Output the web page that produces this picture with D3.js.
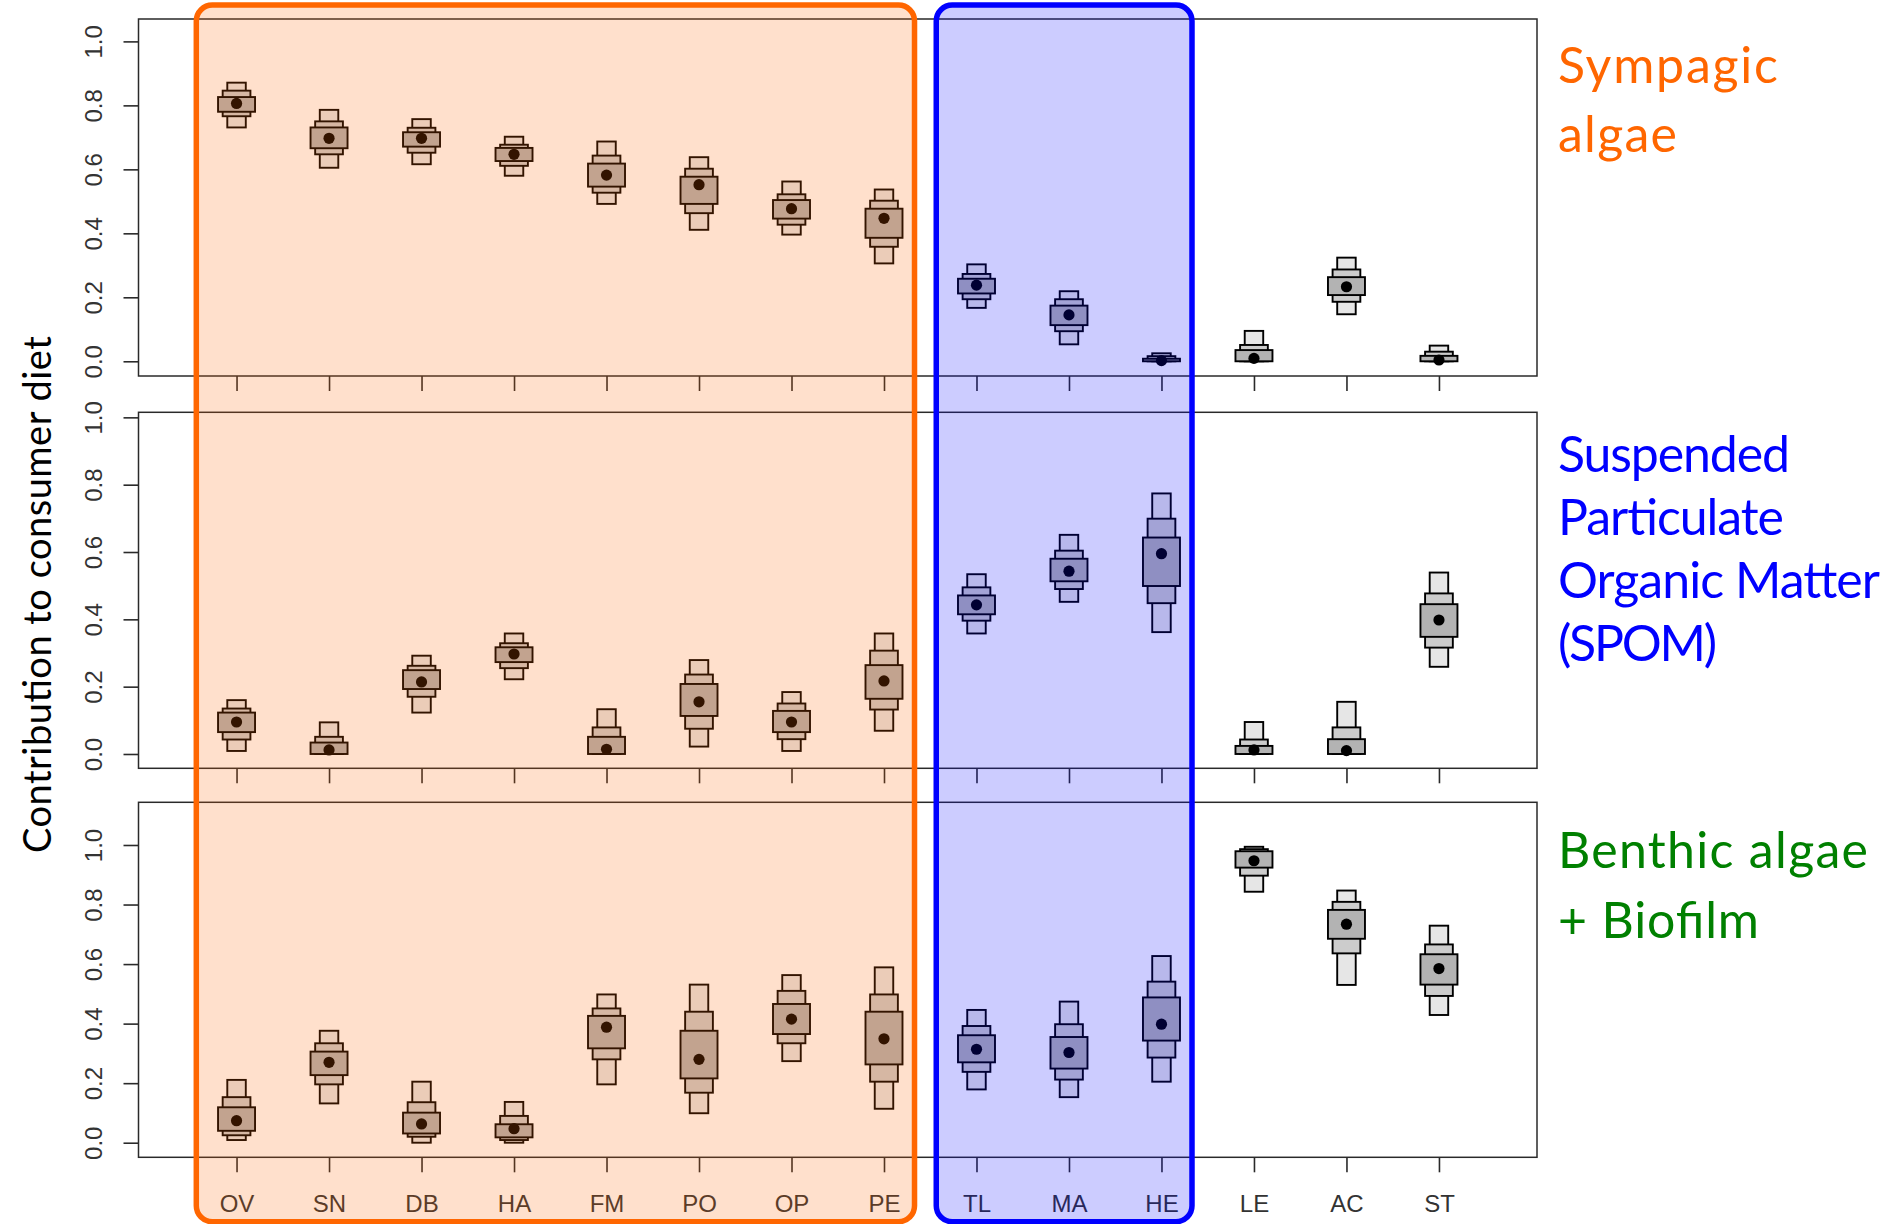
<!DOCTYPE html>
<html>
<head>
<meta charset="utf-8">
<script src="https://cdn.jsdelivr.net/npm/d3@7"></script>
<style>
  body { margin: 0; background: #fff; }
  svg { display: block; }
</style>
</head>
<body>
<svg id="chart" width="1895" height="1224"></svg>
<script>
// Consumers along the x axis
const consumers = ["OV","SN","DB","HA","FM","PO","OP","PE","TL","MA","HE","LE","AC","ST"];

// Posterior diet proportions per consumer:
// [lo95, lo75, lo50, mode, hi50, hi75, hi95]
const sympagic = [
  [0.731, 0.766, 0.780, 0.806, 0.826, 0.846, 0.871],
  [0.605, 0.647, 0.666, 0.697, 0.731, 0.750, 0.786],
  [0.616, 0.652, 0.671, 0.697, 0.716, 0.730, 0.757],
  [0.580, 0.611, 0.626, 0.647, 0.667, 0.677, 0.702],
  [0.492, 0.527, 0.546, 0.582, 0.618, 0.643, 0.687],
  [0.411, 0.463, 0.492, 0.552, 0.577, 0.602, 0.638],
  [0.396, 0.427, 0.446, 0.477, 0.504, 0.522, 0.562],
  [0.306, 0.358, 0.386, 0.447, 0.477, 0.502, 0.537],
  [0.167, 0.194, 0.212, 0.238, 0.258, 0.273, 0.303],
  [0.053, 0.094, 0.113, 0.145, 0.174, 0.194, 0.219],
  [0.000, 0.000, 0.000, 0.002, 0.008, 0.016, 0.025],
  [0.000, 0.000, 0.000, 0.009, 0.035, 0.051, 0.095],
  [0.147, 0.186, 0.207, 0.233, 0.263, 0.287, 0.324],
  [0.000, 0.000, 0.000, 0.004, 0.017, 0.030, 0.049]
];

const spom = [
  [0.009, 0.043, 0.065, 0.095, 0.123, 0.135, 0.160],
  [0.000, 0.000, 0.000, 0.012, 0.034, 0.051, 0.094],
  [0.123, 0.170, 0.193, 0.214, 0.249, 0.262, 0.292],
  [0.222, 0.255, 0.273, 0.297, 0.317, 0.329, 0.358],
  [0.000, 0.000, 0.000, 0.014, 0.051, 0.079, 0.133],
  [0.022, 0.075, 0.113, 0.155, 0.208, 0.236, 0.279],
  [0.009, 0.044, 0.065, 0.095, 0.128, 0.150, 0.184],
  [0.069, 0.132, 0.164, 0.217, 0.264, 0.307, 0.358],
  [0.358, 0.396, 0.415, 0.443, 0.471, 0.495, 0.534],
  [0.452, 0.490, 0.513, 0.543, 0.580, 0.604, 0.651],
  [0.362, 0.448, 0.499, 0.595, 0.643, 0.699, 0.774],
  [0.000, 0.000, 0.000, 0.012, 0.024, 0.043, 0.095],
  [0.000, 0.000, 0.000, 0.010, 0.044, 0.079, 0.155],
  [0.259, 0.316, 0.348, 0.398, 0.445, 0.477, 0.539]
];

const benthic = [
  [0.009, 0.025, 0.040, 0.074, 0.119, 0.153, 0.211],
  [0.132, 0.196, 0.227, 0.270, 0.306, 0.334, 0.376],
  [0.000, 0.020, 0.031, 0.063, 0.101, 0.136, 0.205],
  [0.000, 0.009, 0.018, 0.047, 0.062, 0.090, 0.137],
  [0.196, 0.280, 0.317, 0.388, 0.426, 0.451, 0.498],
  [0.099, 0.168, 0.216, 0.280, 0.376, 0.440, 0.531],
  [0.274, 0.334, 0.365, 0.415, 0.466, 0.510, 0.563],
  [0.114, 0.205, 0.263, 0.349, 0.440, 0.498, 0.589],
  [0.179, 0.238, 0.270, 0.314, 0.361, 0.392, 0.446],
  [0.153, 0.212, 0.249, 0.303, 0.355, 0.398, 0.474],
  [0.205, 0.286, 0.343, 0.398, 0.488, 0.541, 0.627],
  [0.843, 0.897, 0.924, 0.947, 0.979, 0.986, 0.994],
  [0.530, 0.636, 0.685, 0.734, 0.782, 0.809, 0.847],
  [0.429, 0.493, 0.531, 0.585, 0.633, 0.666, 0.729]
];

const yTickValues = [0, 0.2, 0.4, 0.6, 0.8, 1.0];

// Source labels shown to the right of each panel
const sourceLabels = [
  { lines: ["Sympagic", "algae"], color: "#FF6600" },
  { lines: ["Suspended", "Particulate", "Organic Matter", "(SPOM)"], color: "#0000FF" },
  { lines: ["Benthic algae", "+ Biofilm"], color: "#008000" }
];

// Highlighted consumer groups
const groups = [
  { first: "OV", last: "PE", color: "#FF6600" },
  { first: "TL", last: "HE", color: "#0000FF" }
];

// ---- layout ----
const svg = d3.select("#chart");
const plotLeft = 138.5, plotRight = 1537;
const panelLayout = [
  { top: 19,    bottom: 376,    domain: [-0.046, 1.070], labelY: 82.6,  lineH: 69.2, widths: [220, 119] },
  { top: 412.3, bottom: 768.3,  domain: [-0.0425, 1.015], labelY: 472.3, lineH: 62.8, widths: [232, 226, 322, 159] },
  { top: 802.3, bottom: 1157.3, domain: [-0.049, 1.1434], labelY: 868.3, lineH: 70,   widths: [310, 201] }
];
const panelRows = [sympagic, spom, benthic];

const x = d3.scaleLinear().domain([-0.06, 15.06]).range([plotLeft, plotRight]);
const unit = x(1) - x(0);

// interval levels: outer (narrow, light) to inner (wide, dark)
const levels = [
  { lo: 0, hi: 6, w: 0.2, fill: "#e6e6e6" },
  { lo: 1, hi: 5, w: 0.3, fill: "#cccccc" },
  { lo: 2, hi: 4, w: 0.4, fill: "#b3b3b3" }
];

const axisFont = "'Liberation Sans', Arial, sans-serif";
const labelFont = "Lato, 'Open Sans', sans-serif";

panelLayout.forEach((p, k) => {
  const y = d3.scaleLinear().domain(p.domain).range([p.bottom, p.top]);
  const g = svg.append("g");
  const rows = panelRows[k];

  // y axis
  const yAxis = g.append("g")
    .attr("transform", `translate(${plotLeft},0)`)
    .call(d3.axisLeft(y).tickValues(yTickValues).tickSize(15).tickSizeOuter(0)
      .tickFormat(d3.format(".1f")));
  yAxis.select(".domain").remove();
  yAxis.attr("color", "#2a2a2a").attr("font-family", axisFont).attr("font-size", 24);
  yAxis.selectAll("line").attr("stroke-width", 1.6);
  yAxis.selectAll("text")
    .attr("fill", "#333")
    .attr("x", null).attr("dy", null)
    .attr("text-anchor", "middle")
    .attr("transform", "translate(-37,0) rotate(-90)");

  // x axis
  const xAxis = g.append("g")
    .attr("transform", `translate(0,${p.bottom})`)
    .call(d3.axisBottom(x).tickValues(d3.range(1, consumers.length + 1)).tickSize(15).tickSizeOuter(0)
      .tickFormat(k === 2 ? (d => consumers[d - 1]) : ""));
  xAxis.select(".domain").remove();
  xAxis.attr("color", "#2a2a2a").attr("font-family", axisFont).attr("font-size", 24);
  xAxis.selectAll("line").attr("stroke-width", 1.6);
  xAxis.selectAll("text").attr("fill", "#333").attr("y", 54.4).attr("dy", null);

  // frame
  g.append("rect")
    .attr("x", plotLeft).attr("y", p.top)
    .attr("width", plotRight - plotLeft).attr("height", p.bottom - p.top)
    .attr("fill", "none").attr("stroke", "#2a2a2a").attr("stroke-width", 1.5);

  // interval boxes
  const cons = g.append("g").selectAll("g").data(rows).join("g");
  levels.forEach(lv => {
    cons.append("rect")
      .attr("x", (d, i) => x(i + 1 - lv.w / 2))
      .attr("width", lv.w * unit)
      .attr("y", d => y(d[lv.hi]))
      .attr("height", d => y(d[lv.lo]) - y(d[lv.hi]))
      .attr("fill", lv.fill)
      .attr("stroke", "#000")
      .attr("stroke-width", 1.9);
  });
  // modes
  cons.append("circle")
    .attr("cx", (d, i) => x(i + 1))
    .attr("cy", d => y(d[3]))
    .attr("r", 5.6)
    .attr("fill", "#000");

  // source label
  const lab = sourceLabels[k];
  const t = svg.append("text")
    .attr("font-family", labelFont)
    .attr("font-size", 50)
    .attr("fill", lab.color);
  lab.lines.forEach((line, j) => {
    t.append("tspan")
      .attr("x", 1558)
      .attr("y", p.labelY + j * p.lineH)
      .attr("textLength", p.widths[j])
      .attr("lengthAdjust", "spacing")
      .text(line);
  });
});

// group highlight overlays
const idx = c => consumers.indexOf(c) + 1;
groups.forEach(gr => {
  const x0 = x(idx(gr.first) - 0.435), x1 = x(idx(gr.last) + 0.33);
  svg.append("rect")
    .attr("x", x0).attr("y", 5)
    .attr("width", x1 - x0).attr("height", 1221.7 - 5)
    .attr("rx", 16).attr("ry", 16)
    .attr("fill", gr.color).attr("fill-opacity", 0.2)
    .attr("stroke", gr.color).attr("stroke-width", 5.5);
});

// y axis title
svg.append("text")
  .attr("transform", "translate(50.5,594.6) rotate(-90)")
  .attr("text-anchor", "middle")
  .attr("font-family", labelFont)
  .attr("font-size", 38)
  .attr("fill", "#000")
  .attr("textLength", 517)
  .attr("lengthAdjust", "spacing")
  .text("Contribution to consumer diet");
</script>
</body>
</html>
